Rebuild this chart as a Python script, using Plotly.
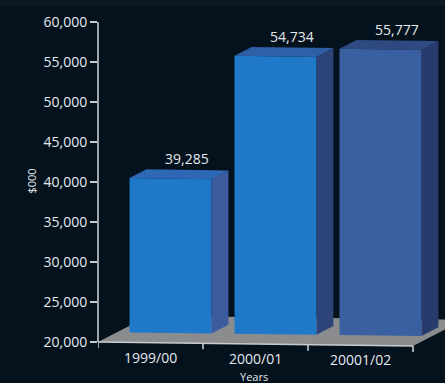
import plotly.graph_objects as go

# ---- data -------------------------------------------------------------
years = ["1999/00", "2000/01", "20001/02"]
spend = [39285, 54734, 55777]          # $000
y_ticks = [20000, 25000, 30000, 35000, 40000, 45000, 50000, 55000, 60000]

# ---- styling ----------------------------------------------------------
BG = "#03121d"
TEXT = "#e6e9ec"
AXIS = "#c9cccf"
FLOOR = "#8b8c8e"
FRONT = ["#1f78c8", "#1f78c8", "#3a60a2"]
TOP = ["#2e68b4", "#2f5fa6", "#2e4a80"]
SIDE = ["#3d5ca0", "#2d4478", "#273b6c"]
FONT = "Open Sans"

# ---- pseudo-3D geometry (axis units) -----------------------------------
Y_MIN, Y_MAX = 20000, 60000
X_LO = -0.5
PX_PER_X = 105.0                     # pixels per category
PX_PER_Y = 0.008                     # pixels per $000
PLOT_W = 347
HALF_W = 0.39                        # half width of a bar's front face
FACE_DX, FACE_DY = 0.19, 1250        # front faces sit behind the axis plane
DEPTH_DX, DEPTH_DY = 0.162, 1125     # depth of each bar
FLOOR_DX, FLOOR_DY = 0.486, 3375     # depth of the floor
TILT = -167                          # slight perspective drop to the right


def pt(x, y):
    return x, y + (x - X_LO) * TILT


def poly(corners, color):
    xs, ys = zip(*[pt(x, y) for x, y in corners])
    return go.Scatter(
        x=list(xs) + [xs[0]], y=list(ys) + [ys[0]],
        mode="lines", fill="toself", fillcolor=color,
        line=dict(width=0, color=color), hoverinfo="skip",
    )


fig = go.Figure()

# floor
n = len(years)
fig.add_trace(poly([
    (X_LO, Y_MIN), (X_LO + n, Y_MIN),
    (X_LO + n + FLOOR_DX, Y_MIN + FLOOR_DY), (X_LO + FLOOR_DX, Y_MIN + FLOOR_DY),
], FLOOR))

# bars
for i, v in enumerate(spend):
    x0 = i + FACE_DX - HALF_W
    x1 = i + FACE_DX + HALF_W
    base = Y_MIN + FACE_DY
    top = v + FACE_DY
    fig.add_trace(poly([
        (x1, base), (x1 + DEPTH_DX, base + DEPTH_DY),
        (x1 + DEPTH_DX, top + DEPTH_DY), (x1, top),
    ], SIDE[i]))
    fig.add_trace(poly([
        (x0, top), (x1, top),
        (x1 + DEPTH_DX, top + DEPTH_DY), (x0 + DEPTH_DX, top + DEPTH_DY),
    ], TOP[i]))
    fig.add_trace(poly([(x0, base), (x1, base), (x1, top), (x0, top)], FRONT[i]))

    lx, ly = pt(i + FACE_DX + DEPTH_DX, top + DEPTH_DY)
    fig.add_annotation(
        x=lx, y=ly, xref="x", yref="y", text=f"{v:,}", showarrow=False,
        yanchor="middle", yshift=11, font=dict(family=FONT, size=14, color=TEXT),
    )

# category axis line with boundary ticks
ax_x, ax_y = [], []
a, b = pt(X_LO, Y_MIN), pt(X_LO + n, Y_MIN)
ax_x += [a[0], b[0], None]
ax_y += [a[1], b[1], None]
for k in range(n + 1):
    bx = X_LO + k
    p, q = pt(bx, Y_MIN), pt(bx, Y_MIN - 750)
    ax_x += [p[0], q[0], None]
    ax_y += [p[1], q[1], None]
fig.add_trace(go.Scatter(x=ax_x, y=ax_y, mode="lines",
                         line=dict(color=AXIS, width=1.6), hoverinfo="skip"))

# category labels
for i, name in enumerate(years):
    cx, cy = pt(i, Y_MIN)
    fig.add_annotation(
        x=cx, y=cy, xref="x", yref="y", text=name, showarrow=False,
        yanchor="middle", yshift=-14.5, font=dict(family=FONT, size=14, color=TEXT),
    )

# value axis line
fig.add_shape(type="line", xref="paper", yref="y", x0=0, x1=0, y0=Y_MIN, y1=Y_MAX,
              line=dict(color=AXIS, width=1.6))

Y_LO = 18500
T, B = 22, 29
PLOT_H = 383 - T - B

# thin lighter band along the top edge
fig.add_shape(type="rect", xref="paper", yref="paper", x0=-98 / PLOT_W, x1=1,
              y0=1 + (T - 6) / PLOT_H, y1=1 + T / PLOT_H,
              fillcolor="#0b1a25", line=dict(width=0), layer="below")

fig.add_annotation(
    xref="paper", yref="paper", x=(21 - 98) / PLOT_W, y=(PLOT_H + T - 181) / PLOT_H,
    text="$000", textangle=-90, showarrow=False,
    font=dict(family=FONT, size=11, color=TEXT),
)
fig.add_annotation(
    xref="paper", yref="paper", x=(254 - 98) / PLOT_W, y=(PLOT_H + T - 376) / PLOT_H,
    text="Years", showarrow=False, yanchor="middle",
    font=dict(family=FONT, size=11, color=TEXT),
)

fig.update_layout(
    width=445, height=383,
    margin=dict(l=98, r=0, t=T, b=B),
    paper_bgcolor=BG, plot_bgcolor=BG,
    showlegend=False,
    hovermode=False,
    xaxis=dict(range=[X_LO, X_LO + PLOT_W / PX_PER_X], visible=False, fixedrange=True),
    yaxis=dict(
        range=[Y_LO, Y_MAX], tickvals=y_ticks, tickformat=",",
        ticks="outside", ticklen=7, tickwidth=1.6, tickcolor=AXIS,
        showline=False, showgrid=False, zeroline=False,
        tickfont=dict(family=FONT, size=14, color=TEXT),
        fixedrange=True,
    ),
)

fig.write_html("out.html")
